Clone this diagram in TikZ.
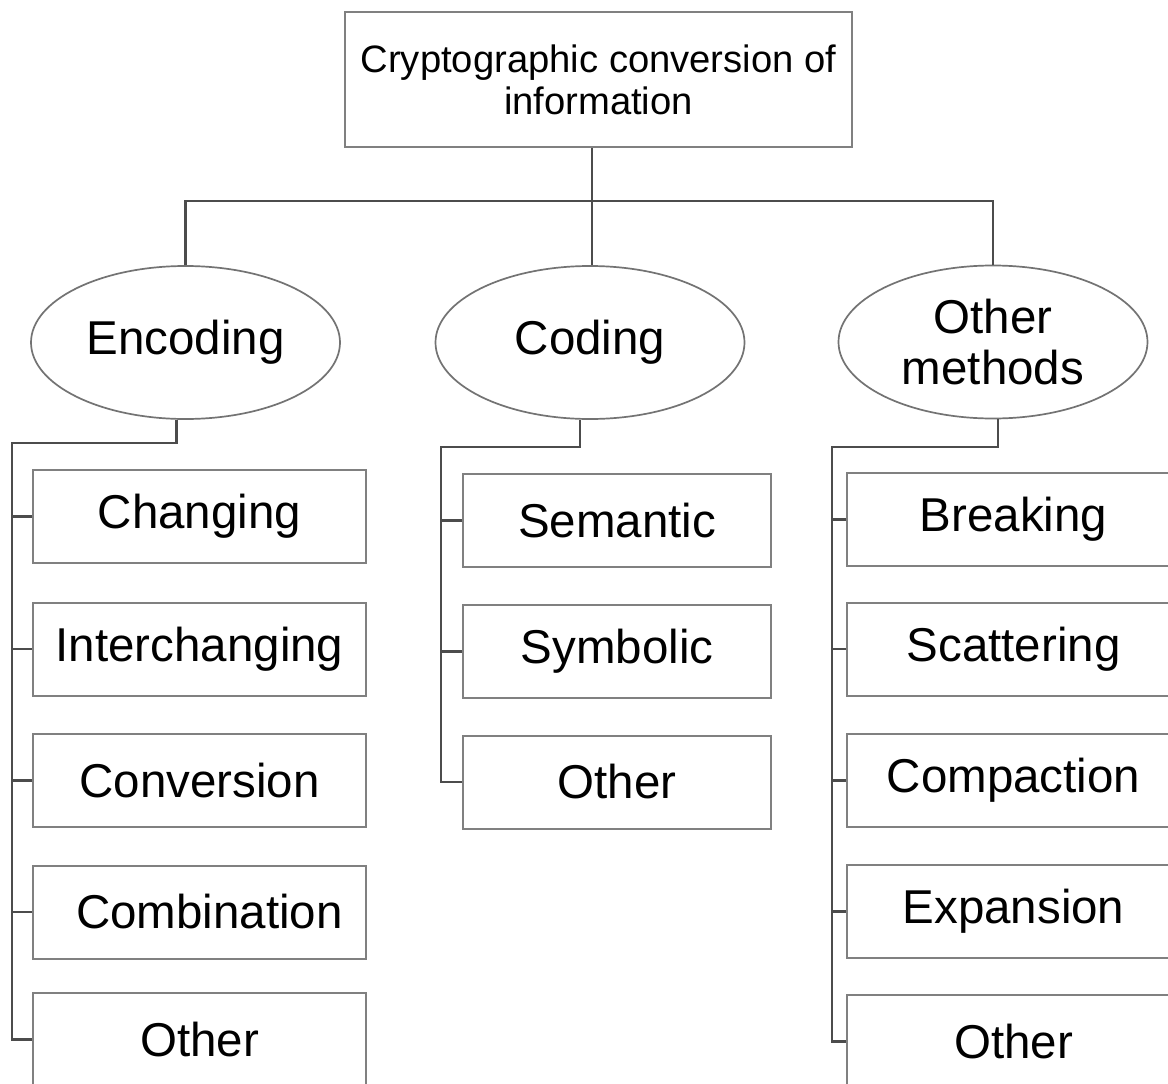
\documentclass[tikz,border=0pt]{standalone}
\usepackage{fontspec}
\setmainfont{Liberation Sans}
\usetikzlibrary{shapes.geometric}
\begin{document}
\begin{tikzpicture}[x=1pt,y=-1pt,
  boxline/.style={draw=black!50, line width=2pt},
  leaf/.style={boxline, rectangle, inner sep=0pt, minimum height=93pt, font=\fontsize{47.5}{52}\selectfont},
  leafL/.style={leaf, minimum width=333pt},
  leafC/.style={leaf, minimum width=308pt},
  leafR/.style={leaf, minimum width=333pt},
  oval/.style={draw=black!55, line width=1.7pt, ellipse, inner sep=0pt, minimum width=309pt, minimum height=153pt, align=center, font=\fontsize{47.5}{51}\selectfont},
  conn/.style={draw=black!70, line width=2.2pt}]
\useasboundingbox[fill=white] (0,0) rectangle (1168,1084);

% root
\node[boxline, rectangle, minimum width=507pt, minimum height=135pt, inner sep=0pt, align=center,
      font=\fontsize{38.2}{42}\selectfont] (top) at (598.5,79.5) {Cryptographic conversion of\\information};

% second level
\node[oval] (enc) at (185.5,342.5) {\raisebox{-3pt}{Encoding}};
\node[oval] (cod) at (590,342.5) {\raisebox{-4pt}{Coding}};
\node[oval] (oth) at (993,342) {Other\\methods};

% leaves: Encoding
\node[leafL] (e1) at (199.5,516.5) {\raisebox{-3pt}{Changing}};
\node[leafL] (e2) at (199.5,649) {Interchanging};
\node[leafL] (e3) at (199.5,780.5) {Conversion};
\node[leafL] (e4) at (199.5,912) {\hspace*{20pt}Combination};
\node[leafL] (e5) at (199.5,1039.5) {Other};

% leaves: Coding
\node[leafC] (c1) at (617,520.5) {Semantic};
\node[leafC] (c2) at (617,651.5) {\raisebox{-2pt}{Symbolic}};
\node[leafC] (c3) at (617,782) {Other};

% leaves: Other methods
\node[leafR] (o1) at (1013.5,519.5) {\raisebox{-2pt}{Breaking}};
\node[leafR] (o2) at (1013.5,649) {\raisebox{-2pt}{Scattering}};
\node[leafR] (o3) at (1013.5,780.5) {\raisebox{-2pt}{Compaction}};
\node[leafR] (o4) at (1013.5,911.5) {\raisebox{-2pt}{Expansion}};
\node[leafR] (o5) at (1013.5,1041.5) {Other};

% bus coordinates
\coordinate (bus) at (592,201);
\coordinate (encbus) at (12,443);
\coordinate (codbus) at (441,447);
\coordinate (othbus) at (832,447);

% root to second level
\draw[conn] (top.south -| bus) -- (bus);
\draw[conn] (enc.north) |- (bus) -| (oth.north);
\draw[conn] (bus) -- (cod.north -| bus);

% Encoding branch
\draw[conn] ([xshift=-9pt]enc.south) |- (encbus) -- (encbus |- e5.west) -- (e5.west);
\foreach \n in {e1,e2,e3,e4}{\draw[conn] (encbus |- \n.west) -- (\n.west);}

% Coding branch
\draw[conn] ([xshift=-10pt]cod.south) |- (codbus) -- (codbus |- c3.west) -- (c3.west);
\foreach \n in {c1,c2}{\draw[conn] (codbus |- \n.west) -- (\n.west);}

% Other methods branch
\draw[conn] ([xshift=5pt]oth.south) |- (othbus) -- (othbus |- o5.west) -- (o5.west);
\foreach \n in {o1,o2,o3,o4}{\draw[conn] (othbus |- \n.west) -- (\n.west);}
\end{tikzpicture}
\end{document}
